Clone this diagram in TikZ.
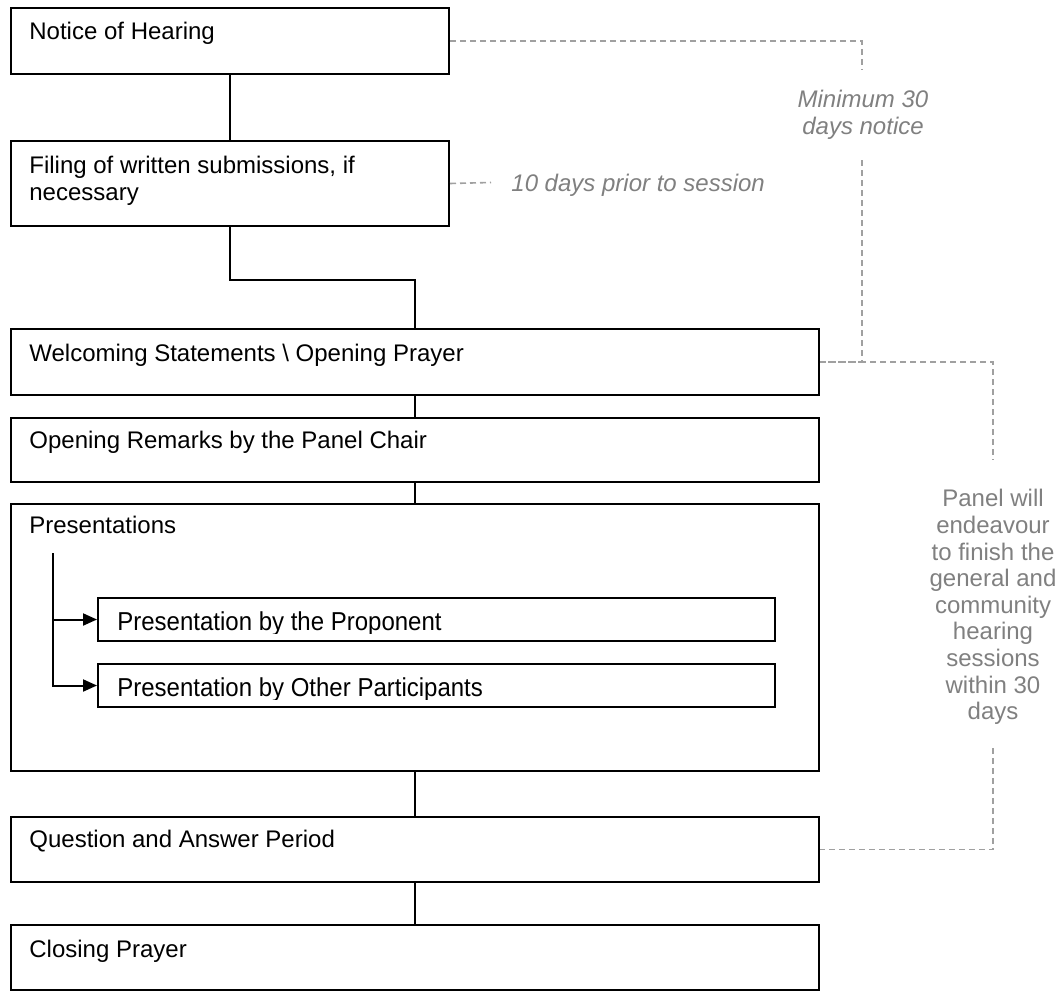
\documentclass[tikz,border=0pt]{standalone}
\usepackage{fontspec}
\setmainfont{Liberation Sans}
\usetikzlibrary{arrows.meta}
\definecolor{anntext}{HTML}{808080}
\definecolor{dashc}{HTML}{A0A0A0}
\begin{document}
\begin{tikzpicture}[x=0.5pt,y=-0.5pt,
  box/.style={draw=black, line width=1pt, rectangle, inner sep=0pt, anchor=north west},
  conn/.style={draw=black, line width=1pt},
  arr/.style={conn, -{Triangle[length=7pt,width=6pt]}},
  dashln/.style={draw=dashc, line width=0.8pt, dash pattern=on 3pt off 2pt},
  txt/.style={inner sep=0pt, anchor=base west, font=\fontsize{12}{13.5}\selectfont},
  note/.style={inner sep=0pt, text=anntext, align=center, font=\fontsize{12}{13.3}\selectfont},
  notei/.style={inner sep=0pt, text=anntext, align=center, font=\fontsize{12}{13.5}\selectfont\itshape}
]
\useasboundingbox (0,0) rectangle (1063,990);
% main boxes
\node[box, minimum width=219pt, minimum height=33pt]   (b1) at (10,7)   {};
\node[box, minimum width=219pt, minimum height=42.5pt] (b2) at (10,140) {};
\node[box, minimum width=404pt, minimum height=33pt]   (b3) at (10,328) {};
\node[box, minimum width=404pt, minimum height=32pt]   (b4) at (10,417) {};
\node[box, minimum width=404pt, minimum height=133.5pt] (b5) at (10,503) {};
\node[box, minimum width=338.5pt, minimum height=21.5pt] (s1) at (97,597) {};
\node[box, minimum width=338.5pt, minimum height=21.5pt] (s2) at (97,663) {};
\node[box, minimum width=404pt, minimum height=32.5pt] (qa) at (10,816) {};
\node[box, minimum width=404pt, minimum height=32.5pt] (cl) at (10,924) {};
% box texts
\node[txt] (t1) at ([xshift=9.5pt,yshift=-16.5pt]b1.north west) {Notice of Hearing};
\node[txt, anchor=north west, align=left] (t2) at ([xshift=9.5pt,yshift=-7.75pt]b2.north west) {Filing of written submissions, if\\necessary};
\node[txt] (t3) at ([xshift=9.5pt,yshift=-16.5pt]b3.north west) {Welcoming Statements \textbackslash{} Opening Prayer};
\node[txt] (t4) at ([xshift=9.5pt,yshift=-15.5pt]b4.north west) {Opening Remarks by the Panel Chair};
\node[txt] (t5) at ([xshift=9.5pt,yshift=-15pt]b5.north west) {Presentations};
\begin{scope}
\clip ([xshift=0.5pt]s1.north west) rectangle ([yshift=4.5pt]s1.south east);
\node[txt] (ts1) at ([xshift=10pt,yshift=-16.5pt]s1.north west) {\scalebox{1}[1.08]{Presentation by the Proponent}};
\end{scope}
\begin{scope}
\clip ([xshift=0.5pt]s2.north west) rectangle ([yshift=4.5pt]s2.south east);
\node[txt] (ts2) at ([xshift=10pt,yshift=-16.5pt]s2.north west) {\scalebox{1}[1.08]{Presentation by Other Participants}};
\end{scope}
\node[txt] (tqa) at ([xshift=9.5pt,yshift=-15.5pt]qa.north west) {Question and Answer Period};
\node[txt] (tcl) at ([xshift=9.5pt,yshift=-16.5pt]cl.north west) {Closing Prayer};
% main connectors
\draw[conn] (b1.south) -- (b2.north);
\draw[conn] (b2.south) -- ++(0,53) -| (b3.north);
\draw[conn] (b3.south) -- (b4.north);
\draw[conn] (b4.south) -- (b5.north);
\draw[conn] (b5.south) -- (qa.north);
\draw[conn] (qa.south) -- (cl.north);
% sub arrows
\coordinate (st) at (53,553);
\draw[arr] (st) |- (s2.west);
\draw[arr] (st |- s1.west) -- (s1.west);
% annotations
\node[notei, anchor=north] (mn) at (863,90) {Minimum 30\\days notice};
\coordinate (m1) at (862,70);
\coordinate (m2) at (862,160);
\draw[dashln] (b1.east) -| (m1);
\draw[dashln] (m2) |- (b3.east);
\coordinate (d1) at (491,182.5);
\draw[dashln] (b2.east) -- (d1);
\node[notei, anchor=base west] (ten) at (511,191) {10 days prior to session};
\coordinate (p1) at (993,460);
\coordinate (p2) at (993,748);
\draw[dashln] (b3.east) -| (p1);
\draw[dashln] (p2) |- (qa.east);
\node[note, anchor=north] (pn) at (993,489) {Panel will\\endeavour\\to finish the\\general and\\community\\hearing\\sessions\\within 30\\days};
\end{tikzpicture}
\end{document}
